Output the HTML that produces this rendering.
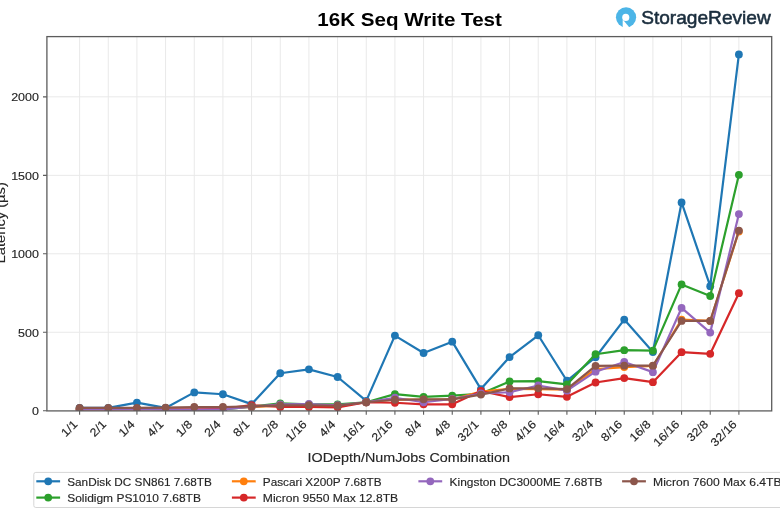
<!DOCTYPE html><html><head><meta charset="utf-8"><style>html,body{margin:0;padding:0;background:#fff;width:780px;height:516px;overflow:hidden}svg{display:block;will-change:transform}text{font-family:"Liberation Sans",sans-serif}.r{stroke:#262626;stroke-width:0.15px}</style></head><body>
<svg width="780" height="516" viewBox="0 0 780 516">
<defs><clipPath id="c"><rect x="46.9" y="31.6" width="724.8000000000001" height="379.29999999999995"/></clipPath></defs>
<rect width="780" height="516" fill="#fff"/>
<path d="M79.60 36.60V410.90M108.26 36.60V410.90M136.93 36.60V410.90M165.59 36.60V410.90M194.26 36.60V410.90M222.92 36.60V410.90M251.59 36.60V410.90M280.25 36.60V410.90M308.92 36.60V410.90M337.59 36.60V410.90M366.25 36.60V410.90M394.91 36.60V410.90M423.58 36.60V410.90M452.25 36.60V410.90M480.91 36.60V410.90M509.57 36.60V410.90M538.24 36.60V410.90M566.90 36.60V410.90M595.57 36.60V410.90M624.24 36.60V410.90M652.90 36.60V410.90M681.57 36.60V410.90M710.23 36.60V410.90M738.89 36.60V410.90M46.90 332.27H771.70M46.90 253.80H771.70M46.90 175.33H771.70M46.90 96.85H771.70" stroke="#e9e9e9" stroke-width="1" fill="none"/>
<g clip-path="url(#c)">
<polyline points="79.60,407.92 108.26,407.92 136.93,402.59 165.59,407.92 194.26,392.39 222.92,394.27 251.59,404.16 280.25,373.24 308.92,369.32 337.59,377.01 366.25,400.86 394.91,335.57 423.58,352.99 452.25,341.69 480.91,389.09 509.57,357.07 538.24,335.26 566.90,380.77 595.57,357.23 624.24,319.56 652.90,352.05 681.57,202.48 710.23,286.13 738.89,54.47" fill="none" stroke="#1f77b4" stroke-width="2.2" stroke-linejoin="round" stroke-linecap="butt"/>
<g fill="#1f77b4"><circle cx="79.60" cy="407.92" r="3.9"/><circle cx="108.26" cy="407.92" r="3.9"/><circle cx="136.93" cy="402.59" r="3.9"/><circle cx="165.59" cy="407.92" r="3.9"/><circle cx="194.26" cy="392.39" r="3.9"/><circle cx="222.92" cy="394.27" r="3.9"/><circle cx="251.59" cy="404.16" r="3.9"/><circle cx="280.25" cy="373.24" r="3.9"/><circle cx="308.92" cy="369.32" r="3.9"/><circle cx="337.59" cy="377.01" r="3.9"/><circle cx="366.25" cy="400.86" r="3.9"/><circle cx="394.91" cy="335.57" r="3.9"/><circle cx="423.58" cy="352.99" r="3.9"/><circle cx="452.25" cy="341.69" r="3.9"/><circle cx="480.91" cy="389.09" r="3.9"/><circle cx="509.57" cy="357.07" r="3.9"/><circle cx="538.24" cy="335.26" r="3.9"/><circle cx="566.90" cy="380.77" r="3.9"/><circle cx="595.57" cy="357.23" r="3.9"/><circle cx="624.24" cy="319.56" r="3.9"/><circle cx="652.90" cy="352.05" r="3.9"/><circle cx="681.57" cy="202.48" r="3.9"/><circle cx="710.23" cy="286.13" r="3.9"/><circle cx="738.89" cy="54.47" r="3.9"/></g>
<polyline points="79.60,408.87 108.26,408.87 136.93,408.55 165.59,409.18 194.26,409.49 222.92,409.49 251.59,406.67 280.25,403.37 308.92,404.47 337.59,404.32 366.25,402.27 394.91,394.11 423.58,396.78 452.25,395.68 480.91,393.80 509.57,381.40 538.24,381.09 566.90,384.38 595.57,354.25 624.24,350.17 652.90,350.64 681.57,284.41 710.23,296.02 738.89,174.85" fill="none" stroke="#2ca02c" stroke-width="2.2" stroke-linejoin="round" stroke-linecap="butt"/>
<g fill="#2ca02c"><circle cx="79.60" cy="408.87" r="3.9"/><circle cx="108.26" cy="408.87" r="3.9"/><circle cx="136.93" cy="408.55" r="3.9"/><circle cx="165.59" cy="409.18" r="3.9"/><circle cx="194.26" cy="409.49" r="3.9"/><circle cx="222.92" cy="409.49" r="3.9"/><circle cx="251.59" cy="406.67" r="3.9"/><circle cx="280.25" cy="403.37" r="3.9"/><circle cx="308.92" cy="404.47" r="3.9"/><circle cx="337.59" cy="404.32" r="3.9"/><circle cx="366.25" cy="402.27" r="3.9"/><circle cx="394.91" cy="394.11" r="3.9"/><circle cx="423.58" cy="396.78" r="3.9"/><circle cx="452.25" cy="395.68" r="3.9"/><circle cx="480.91" cy="393.80" r="3.9"/><circle cx="509.57" cy="381.40" r="3.9"/><circle cx="538.24" cy="381.09" r="3.9"/><circle cx="566.90" cy="384.38" r="3.9"/><circle cx="595.57" cy="354.25" r="3.9"/><circle cx="624.24" cy="350.17" r="3.9"/><circle cx="652.90" cy="350.64" r="3.9"/><circle cx="681.57" cy="284.41" r="3.9"/><circle cx="710.23" cy="296.02" r="3.9"/><circle cx="738.89" cy="174.85" r="3.9"/></g>
<polyline points="79.60,409.18 108.26,409.18 136.93,409.18 165.59,408.55 194.26,408.08 222.92,408.08 251.59,406.98 280.25,405.73 308.92,405.73 337.59,406.04 366.25,402.27 394.91,399.45 423.58,399.76 452.25,399.45 480.91,391.60 509.57,388.78 538.24,389.09 566.90,389.72 595.57,369.16 624.24,367.12 652.90,366.02 681.57,319.56 710.23,320.97 738.89,231.51" fill="none" stroke="#ff7f0e" stroke-width="2.2" stroke-linejoin="round" stroke-linecap="butt"/>
<g fill="#ff7f0e"><circle cx="79.60" cy="409.18" r="3.9"/><circle cx="108.26" cy="409.18" r="3.9"/><circle cx="136.93" cy="409.18" r="3.9"/><circle cx="165.59" cy="408.55" r="3.9"/><circle cx="194.26" cy="408.08" r="3.9"/><circle cx="222.92" cy="408.08" r="3.9"/><circle cx="251.59" cy="406.98" r="3.9"/><circle cx="280.25" cy="405.73" r="3.9"/><circle cx="308.92" cy="405.73" r="3.9"/><circle cx="337.59" cy="406.04" r="3.9"/><circle cx="366.25" cy="402.27" r="3.9"/><circle cx="394.91" cy="399.45" r="3.9"/><circle cx="423.58" cy="399.76" r="3.9"/><circle cx="452.25" cy="399.45" r="3.9"/><circle cx="480.91" cy="391.60" r="3.9"/><circle cx="509.57" cy="388.78" r="3.9"/><circle cx="538.24" cy="389.09" r="3.9"/><circle cx="566.90" cy="389.72" r="3.9"/><circle cx="595.57" cy="369.16" r="3.9"/><circle cx="624.24" cy="367.12" r="3.9"/><circle cx="652.90" cy="366.02" r="3.9"/><circle cx="681.57" cy="319.56" r="3.9"/><circle cx="710.23" cy="320.97" r="3.9"/><circle cx="738.89" cy="231.51" r="3.9"/></g>
<polyline points="79.60,409.49 108.26,409.49 136.93,409.18 165.59,409.49 194.26,409.49 222.92,408.87 251.59,405.10 280.25,406.98 308.92,406.98 337.59,407.30 366.25,402.27 394.91,402.75 423.58,404.32 452.25,404.32 480.91,390.97 509.57,397.10 538.24,394.27 566.90,396.78 595.57,382.50 624.24,378.10 652.90,382.19 681.57,352.21 710.23,353.78 738.89,293.19" fill="none" stroke="#d62728" stroke-width="2.2" stroke-linejoin="round" stroke-linecap="butt"/>
<g fill="#d62728"><circle cx="79.60" cy="409.49" r="3.9"/><circle cx="108.26" cy="409.49" r="3.9"/><circle cx="136.93" cy="409.18" r="3.9"/><circle cx="165.59" cy="409.49" r="3.9"/><circle cx="194.26" cy="409.49" r="3.9"/><circle cx="222.92" cy="408.87" r="3.9"/><circle cx="251.59" cy="405.10" r="3.9"/><circle cx="280.25" cy="406.98" r="3.9"/><circle cx="308.92" cy="406.98" r="3.9"/><circle cx="337.59" cy="407.30" r="3.9"/><circle cx="366.25" cy="402.27" r="3.9"/><circle cx="394.91" cy="402.75" r="3.9"/><circle cx="423.58" cy="404.32" r="3.9"/><circle cx="452.25" cy="404.32" r="3.9"/><circle cx="480.91" cy="390.97" r="3.9"/><circle cx="509.57" cy="397.10" r="3.9"/><circle cx="538.24" cy="394.27" r="3.9"/><circle cx="566.90" cy="396.78" r="3.9"/><circle cx="595.57" cy="382.50" r="3.9"/><circle cx="624.24" cy="378.10" r="3.9"/><circle cx="652.90" cy="382.19" r="3.9"/><circle cx="681.57" cy="352.21" r="3.9"/><circle cx="710.23" cy="353.78" r="3.9"/><circle cx="738.89" cy="293.19" r="3.9"/></g>
<polyline points="79.60,409.18 108.26,409.18 136.93,408.87 165.59,409.49 194.26,409.49 222.92,409.49 251.59,406.67 280.25,404.47 308.92,404.00 337.59,405.26 366.25,402.27 394.91,397.72 423.58,402.27 452.25,398.98 480.91,393.49 509.57,392.23 538.24,385.48 566.90,390.66 595.57,371.67 624.24,361.94 652.90,372.14 681.57,307.95 710.23,332.59 738.89,214.09" fill="none" stroke="#9467bd" stroke-width="2.2" stroke-linejoin="round" stroke-linecap="butt"/>
<g fill="#9467bd"><circle cx="79.60" cy="409.18" r="3.9"/><circle cx="108.26" cy="409.18" r="3.9"/><circle cx="136.93" cy="408.87" r="3.9"/><circle cx="165.59" cy="409.49" r="3.9"/><circle cx="194.26" cy="409.49" r="3.9"/><circle cx="222.92" cy="409.49" r="3.9"/><circle cx="251.59" cy="406.67" r="3.9"/><circle cx="280.25" cy="404.47" r="3.9"/><circle cx="308.92" cy="404.00" r="3.9"/><circle cx="337.59" cy="405.26" r="3.9"/><circle cx="366.25" cy="402.27" r="3.9"/><circle cx="394.91" cy="397.72" r="3.9"/><circle cx="423.58" cy="402.27" r="3.9"/><circle cx="452.25" cy="398.98" r="3.9"/><circle cx="480.91" cy="393.49" r="3.9"/><circle cx="509.57" cy="392.23" r="3.9"/><circle cx="538.24" cy="385.48" r="3.9"/><circle cx="566.90" cy="390.66" r="3.9"/><circle cx="595.57" cy="371.67" r="3.9"/><circle cx="624.24" cy="361.94" r="3.9"/><circle cx="652.90" cy="372.14" r="3.9"/><circle cx="681.57" cy="307.95" r="3.9"/><circle cx="710.23" cy="332.59" r="3.9"/><circle cx="738.89" cy="214.09" r="3.9"/></g>
<polyline points="79.60,407.92 108.26,407.92 136.93,407.92 165.59,407.61 194.26,406.98 222.92,406.98 251.59,406.36 280.25,405.41 308.92,405.26 337.59,405.73 366.25,402.27 394.91,399.76 423.58,399.29 452.25,399.29 480.91,394.58 509.57,388.46 538.24,388.31 566.90,389.09 595.57,365.86 624.24,365.71 652.90,365.71 681.57,320.97 710.23,320.97 738.89,230.57" fill="none" stroke="#8c564b" stroke-width="2.2" stroke-linejoin="round" stroke-linecap="butt"/>
<g fill="#8c564b"><circle cx="79.60" cy="407.92" r="3.9"/><circle cx="108.26" cy="407.92" r="3.9"/><circle cx="136.93" cy="407.92" r="3.9"/><circle cx="165.59" cy="407.61" r="3.9"/><circle cx="194.26" cy="406.98" r="3.9"/><circle cx="222.92" cy="406.98" r="3.9"/><circle cx="251.59" cy="406.36" r="3.9"/><circle cx="280.25" cy="405.41" r="3.9"/><circle cx="308.92" cy="405.26" r="3.9"/><circle cx="337.59" cy="405.73" r="3.9"/><circle cx="366.25" cy="402.27" r="3.9"/><circle cx="394.91" cy="399.76" r="3.9"/><circle cx="423.58" cy="399.29" r="3.9"/><circle cx="452.25" cy="399.29" r="3.9"/><circle cx="480.91" cy="394.58" r="3.9"/><circle cx="509.57" cy="388.46" r="3.9"/><circle cx="538.24" cy="388.31" r="3.9"/><circle cx="566.90" cy="389.09" r="3.9"/><circle cx="595.57" cy="365.86" r="3.9"/><circle cx="624.24" cy="365.71" r="3.9"/><circle cx="652.90" cy="365.71" r="3.9"/><circle cx="681.57" cy="320.97" r="3.9"/><circle cx="710.23" cy="320.97" r="3.9"/><circle cx="738.89" cy="230.57" r="3.9"/></g>
</g>
<rect x="46.90" y="36.60" width="724.80" height="374.30" fill="none" stroke="#5c5c5c" stroke-width="1.3"/>
<path d="M79.60 410.90v3.9M108.26 410.90v3.9M136.93 410.90v3.9M165.59 410.90v3.9M194.26 410.90v3.9M222.92 410.90v3.9M251.59 410.90v3.9M280.25 410.90v3.9M308.92 410.90v3.9M337.59 410.90v3.9M366.25 410.90v3.9M394.91 410.90v3.9M423.58 410.90v3.9M452.25 410.90v3.9M480.91 410.90v3.9M509.57 410.90v3.9M538.24 410.90v3.9M566.90 410.90v3.9M595.57 410.90v3.9M624.24 410.90v3.9M652.90 410.90v3.9M681.57 410.90v3.9M710.23 410.90v3.9M738.89 410.90v3.9M46.90 410.75h-3.9M46.90 332.27h-3.9M46.90 253.80h-3.9M46.90 175.33h-3.9M46.90 96.85h-3.9" stroke="#5c5c5c" stroke-width="1.1" fill="none"/>
<text x="38.90" y="415.25" font-size="11.5" class="r" fill="#262626" text-anchor="end" textLength="6.93" lengthAdjust="spacingAndGlyphs">0</text>
<text x="38.90" y="336.77" font-size="11.5" class="r" fill="#262626" text-anchor="end" textLength="20.80" lengthAdjust="spacingAndGlyphs">500</text>
<text x="38.90" y="258.30" font-size="11.5" class="r" fill="#262626" text-anchor="end" textLength="27.74" lengthAdjust="spacingAndGlyphs">1000</text>
<text x="38.90" y="179.83" font-size="11.5" class="r" fill="#262626" text-anchor="end" textLength="27.74" lengthAdjust="spacingAndGlyphs">1500</text>
<text x="38.90" y="101.35" font-size="11.5" class="r" fill="#262626" text-anchor="end" textLength="27.74" lengthAdjust="spacingAndGlyphs">2000</text>
<text class="r" transform="translate(78.20,425.00) rotate(-45)" font-size="11.5" fill="#262626" text-anchor="end" textLength="17.54" lengthAdjust="spacingAndGlyphs">1/1</text>
<text class="r" transform="translate(106.86,425.00) rotate(-45)" font-size="11.5" fill="#262626" text-anchor="end" textLength="17.54" lengthAdjust="spacingAndGlyphs">2/1</text>
<text class="r" transform="translate(135.53,425.00) rotate(-45)" font-size="11.5" fill="#262626" text-anchor="end" textLength="17.54" lengthAdjust="spacingAndGlyphs">1/4</text>
<text class="r" transform="translate(164.19,425.00) rotate(-45)" font-size="11.5" fill="#262626" text-anchor="end" textLength="17.54" lengthAdjust="spacingAndGlyphs">4/1</text>
<text class="r" transform="translate(192.86,425.00) rotate(-45)" font-size="11.5" fill="#262626" text-anchor="end" textLength="17.54" lengthAdjust="spacingAndGlyphs">1/8</text>
<text class="r" transform="translate(221.52,425.00) rotate(-45)" font-size="11.5" fill="#262626" text-anchor="end" textLength="17.54" lengthAdjust="spacingAndGlyphs">2/4</text>
<text class="r" transform="translate(250.19,425.00) rotate(-45)" font-size="11.5" fill="#262626" text-anchor="end" textLength="17.54" lengthAdjust="spacingAndGlyphs">8/1</text>
<text class="r" transform="translate(278.86,425.00) rotate(-45)" font-size="11.5" fill="#262626" text-anchor="end" textLength="17.54" lengthAdjust="spacingAndGlyphs">2/8</text>
<text class="r" transform="translate(307.52,425.00) rotate(-45)" font-size="11.5" fill="#262626" text-anchor="end" textLength="24.48" lengthAdjust="spacingAndGlyphs">1/16</text>
<text class="r" transform="translate(336.19,425.00) rotate(-45)" font-size="11.5" fill="#262626" text-anchor="end" textLength="17.54" lengthAdjust="spacingAndGlyphs">4/4</text>
<text class="r" transform="translate(364.85,425.00) rotate(-45)" font-size="11.5" fill="#262626" text-anchor="end" textLength="24.48" lengthAdjust="spacingAndGlyphs">16/1</text>
<text class="r" transform="translate(393.51,425.00) rotate(-45)" font-size="11.5" fill="#262626" text-anchor="end" textLength="24.48" lengthAdjust="spacingAndGlyphs">2/16</text>
<text class="r" transform="translate(422.18,425.00) rotate(-45)" font-size="11.5" fill="#262626" text-anchor="end" textLength="17.54" lengthAdjust="spacingAndGlyphs">8/4</text>
<text class="r" transform="translate(450.85,425.00) rotate(-45)" font-size="11.5" fill="#262626" text-anchor="end" textLength="17.54" lengthAdjust="spacingAndGlyphs">4/8</text>
<text class="r" transform="translate(479.51,425.00) rotate(-45)" font-size="11.5" fill="#262626" text-anchor="end" textLength="24.48" lengthAdjust="spacingAndGlyphs">32/1</text>
<text class="r" transform="translate(508.17,425.00) rotate(-45)" font-size="11.5" fill="#262626" text-anchor="end" textLength="17.54" lengthAdjust="spacingAndGlyphs">8/8</text>
<text class="r" transform="translate(536.84,425.00) rotate(-45)" font-size="11.5" fill="#262626" text-anchor="end" textLength="24.48" lengthAdjust="spacingAndGlyphs">4/16</text>
<text class="r" transform="translate(565.50,425.00) rotate(-45)" font-size="11.5" fill="#262626" text-anchor="end" textLength="24.48" lengthAdjust="spacingAndGlyphs">16/4</text>
<text class="r" transform="translate(594.17,425.00) rotate(-45)" font-size="11.5" fill="#262626" text-anchor="end" textLength="24.48" lengthAdjust="spacingAndGlyphs">32/4</text>
<text class="r" transform="translate(622.84,425.00) rotate(-45)" font-size="11.5" fill="#262626" text-anchor="end" textLength="24.48" lengthAdjust="spacingAndGlyphs">8/16</text>
<text class="r" transform="translate(651.50,425.00) rotate(-45)" font-size="11.5" fill="#262626" text-anchor="end" textLength="24.48" lengthAdjust="spacingAndGlyphs">16/8</text>
<text class="r" transform="translate(680.17,425.00) rotate(-45)" font-size="11.5" fill="#262626" text-anchor="end" textLength="31.41" lengthAdjust="spacingAndGlyphs">16/16</text>
<text class="r" transform="translate(708.83,425.00) rotate(-45)" font-size="11.5" fill="#262626" text-anchor="end" textLength="24.48" lengthAdjust="spacingAndGlyphs">32/8</text>
<text class="r" transform="translate(737.50,425.00) rotate(-45)" font-size="11.5" fill="#262626" text-anchor="end" textLength="31.41" lengthAdjust="spacingAndGlyphs">32/16</text>
<text x="307.60" y="462.30" font-size="13.5" class="r" fill="#262626" text-anchor="start" textLength="202.28" lengthAdjust="spacingAndGlyphs">IODepth/NumJobs Combination</text>
<text class="r" transform="translate(4.8,222.8) rotate(-90)" font-size="13.5" fill="#262626" text-anchor="middle" textLength="81.33" lengthAdjust="spacingAndGlyphs">Latency (µs)</text>
<text x="317.30" y="25.90" font-size="17.9" font-weight="bold" fill="#000" text-anchor="start" textLength="184.64" lengthAdjust="spacingAndGlyphs">16K Seq Write Test</text>
<g><circle cx="626.05" cy="17.35" r="10.1" fill="#4cb5e7"/><circle cx="625.75" cy="17.4" r="3.55" fill="#fff"/><path d="M622.7 20.0 L622.7 29.5 L631.1 29.5 L623.6 20.4 Z" fill="#fff"/></g>
<text x="641.2" y="23.8" font-size="18.6" fill="#1a2d3d" stroke="#1a2d3d" stroke-width="0.55" textLength="129.6" lengthAdjust="spacingAndGlyphs">StorageReview</text>
<rect x="33.8" y="472.4" width="750" height="35.1" rx="2" fill="#fff" stroke="#d6d6d6" stroke-width="1"/>
<path d="M36.3 481.3h23.8" stroke="#1f77b4" stroke-width="2.2"/>
<circle cx="48.2" cy="481.3" r="3.9" fill="#1f77b4"/>
<text x="67.20" y="485.85" font-size="11.5" class="r" fill="#262626" text-anchor="start" textLength="144.60" lengthAdjust="spacingAndGlyphs">SanDisk DC SN861 7.68TB</text>
<path d="M36.3 497.6h23.8" stroke="#2ca02c" stroke-width="2.2"/>
<circle cx="48.2" cy="497.6" r="3.9" fill="#2ca02c"/>
<text x="67.20" y="502.15" font-size="11.5" class="r" fill="#262626" text-anchor="start" textLength="133.70" lengthAdjust="spacingAndGlyphs">Solidigm PS1010 7.68TB</text>
<path d="M231.9 481.3h23.8" stroke="#ff7f0e" stroke-width="2.2"/>
<circle cx="243.8" cy="481.3" r="3.9" fill="#ff7f0e"/>
<text x="262.80" y="485.85" font-size="11.5" class="r" fill="#262626" text-anchor="start" textLength="118.80" lengthAdjust="spacingAndGlyphs">Pascari X200P 7.68TB</text>
<path d="M231.9 497.6h23.8" stroke="#d62728" stroke-width="2.2"/>
<circle cx="243.8" cy="497.6" r="3.9" fill="#d62728"/>
<text x="262.80" y="502.15" font-size="11.5" class="r" fill="#262626" text-anchor="start" textLength="135.32" lengthAdjust="spacingAndGlyphs">Micron 9550 Max 12.8TB</text>
<path d="M418.4 481.3h23.8" stroke="#9467bd" stroke-width="2.2"/>
<circle cx="430.3" cy="481.3" r="3.9" fill="#9467bd"/>
<text x="449.60" y="485.85" font-size="11.5" class="r" fill="#262626" text-anchor="start" textLength="152.90" lengthAdjust="spacingAndGlyphs">Kingston DC3000ME 7.68TB</text>
<path d="M622.1 481.3h23.8" stroke="#8c564b" stroke-width="2.2"/>
<circle cx="634.0" cy="481.3" r="3.9" fill="#8c564b"/>
<text x="653.10" y="485.85" font-size="11.5" class="r" fill="#262626" text-anchor="start" textLength="128.38" lengthAdjust="spacingAndGlyphs">Micron 7600 Max 6.4TB</text>
</svg></body></html>
